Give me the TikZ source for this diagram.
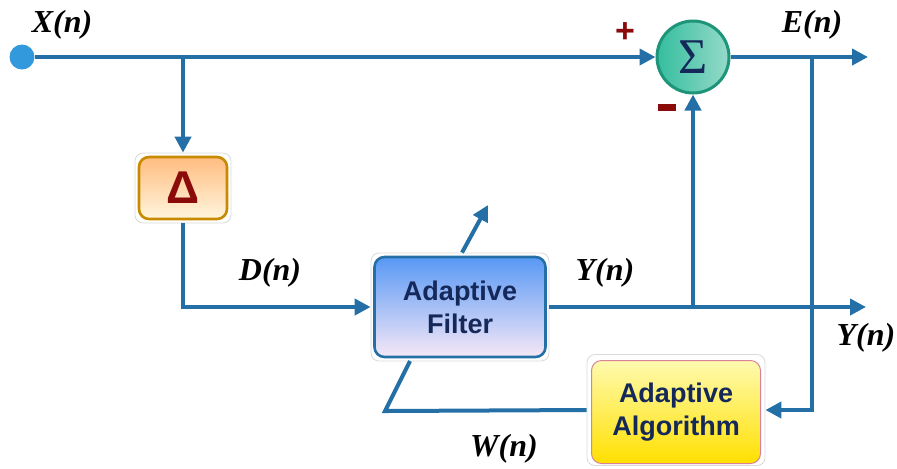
\documentclass[tikz,border=0pt]{standalone}
\usepackage{fontspec}
\setmainfont{Liberation Serif}
\setsansfont{Liberation Sans}
\usetikzlibrary{arrows.meta}

\definecolor{wire}{HTML}{2470A6}
\definecolor{dotblue}{HTML}{3399DD}
\definecolor{navy}{HTML}{14285A}
\definecolor{darkred}{HTML}{8B0A0A}

\def\px{0.5pt}

\begin{document}
\begin{tikzpicture}[x=\px, y=-\px,
% Here are defined the boxes, the frames and the wires
frame/.style={
rectangle, rounded corners=4pt,
draw=black!15, thin, fill=white, inner sep=0 },
box/.style={
rectangle, rounded corners=5pt,
line width=1.3pt, inner sep=0,
font=\sffamily\bfseries\fontsize{13.5}{16.5}\selectfont,
text=navy, align=center },
deltabox/.style={
box, draw={rgb,255:red,200;green,138;blue,0},
top color={rgb,255:red,255;green,188;blue,128},
bottom color={rgb,255:red,255;green,246;blue,222},
minimum width=88*\px, minimum height=62*\px },
filtbox/.style={
box, draw=wire,
top color={rgb,255:red,88;green,152;blue,245},
bottom color={rgb,255:red,246;green,232;blue,246},
minimum width=171*\px, minimum height=100*\px },
algobox/.style={
box, draw={rgb,255:red,215;green,130;blue,150}, line width=0.5pt,
top color={rgb,255:red,255;green,250;blue,175},
bottom color={rgb,255:red,255;green,224;blue,0},
minimum width=169*\px, minimum height=103*\px },
sumnode/.style={
circle, draw={rgb,255:red,30;green,148;blue,120}, line width=1.5pt,
left color={rgb,255:red,52;green,190;blue,158},
right color={rgb,255:red,150;green,218;blue,202},
minimum size=72*\px, inner sep=0 },
wire/.style={
draw=wire, line width=2pt },
arr/.style={
wire, -{Triangle[length=8pt,width=8pt]} },
sig/.style={
font=\bfseries\itshape\fontsize{16}{18}\selectfont },
]

\useasboundingbox (0,0) rectangle (897,468);

%%%%%%%%%%%%%%%%%%%%%%%%
%%% THE BLOCKS
%%%%%%%%%%%%%%%%%%%%%%%%

% input point and summing junction
\node[circle, fill=dotblue, minimum size=25*\px, inner sep=0] (in) at (22,57) {};
\node[sumnode] (sum) at (693,57) {};
\node[text=navy, font=\fontsize{25}{25}\selectfont] at (sum.center) {Σ};

% the delay block: 1st the frame, then the box
\node[frame, minimum width=96*\px, minimum height=70*\px] (delta) at (183,188) {};
\node[deltabox, text=darkred, font=\sffamily\bfseries\fontsize{23}{23}\selectfont] (b0) at (183,188) {Δ};

% the adaptive filter
\node[frame, minimum width=178*\px, minimum height=108*\px] (filt) at (460,307) {};
\node[filtbox] (b1) at (460,307) {Adaptive\\Filter};

% the adaptive algorithm
\node[frame, minimum width=178*\px, minimum height=111*\px] (algo) at (676,410) {};
\node[algobox] (b2) at (676,412) {Adaptive\\Algorithm};

%%%%%%%%%%%%%%%%%%%%%%%%
%%% THE WIRES
%%%%%%%%%%%%%%%%%%%%%%%%

\coordinate (xbr) at (183,57);
\coordinate (ybr) at (693,307);
\coordinate (yout) at (866,307);
\coordinate (ebr) at (812,57);
\coordinate (eout) at (868,57);
\coordinate (tune) at (488,205);
\coordinate (wc) at (385,411);
\coordinate (wf) at (410,361);

\draw[arr] (in) -- (sum);
\draw[arr] (xbr) -- (delta.north);
\draw[arr] (delta.south) |- (filt.west);
\draw[arr] (filt.east) -- (yout);
\draw[arr] (ybr) -- (sum.south);
\draw[arr] (sum.east) -- (eout);
\draw[arr] (ebr) |- (algo.east);
\draw[arr] (filt.north) ++(2,0) -- (tune);
\draw[wire] (algo.west) -- (wc) -- (wf);

%%%%%%%%%%%%%%%%%%%%%%%%
%%% THE LABELS
%%%%%%%%%%%%%%%%%%%%%%%%

\node[sig] (lx) at (62,25) {X(n)};
\node[sig] (le) at (812,25) {E(n)};
\node[sig] (ld) at (270,273) {D(n)};
\node[sig] (ly) at (605,273) {Y(n)};
\node[sig] (ly2) at (866,338) {Y(n)};
\node[sig] (lw) at (504,449) {W(n)};
\node[text=darkred, font=\sffamily\bfseries\fontsize{17}{17}\selectfont] (plus) at (625,33) {+};
\node[fill=darkred, minimum width=18*\px, minimum height=7*\px, inner sep=0] (minus) at (667,107) {};

\end{tikzpicture}
\end{document}
